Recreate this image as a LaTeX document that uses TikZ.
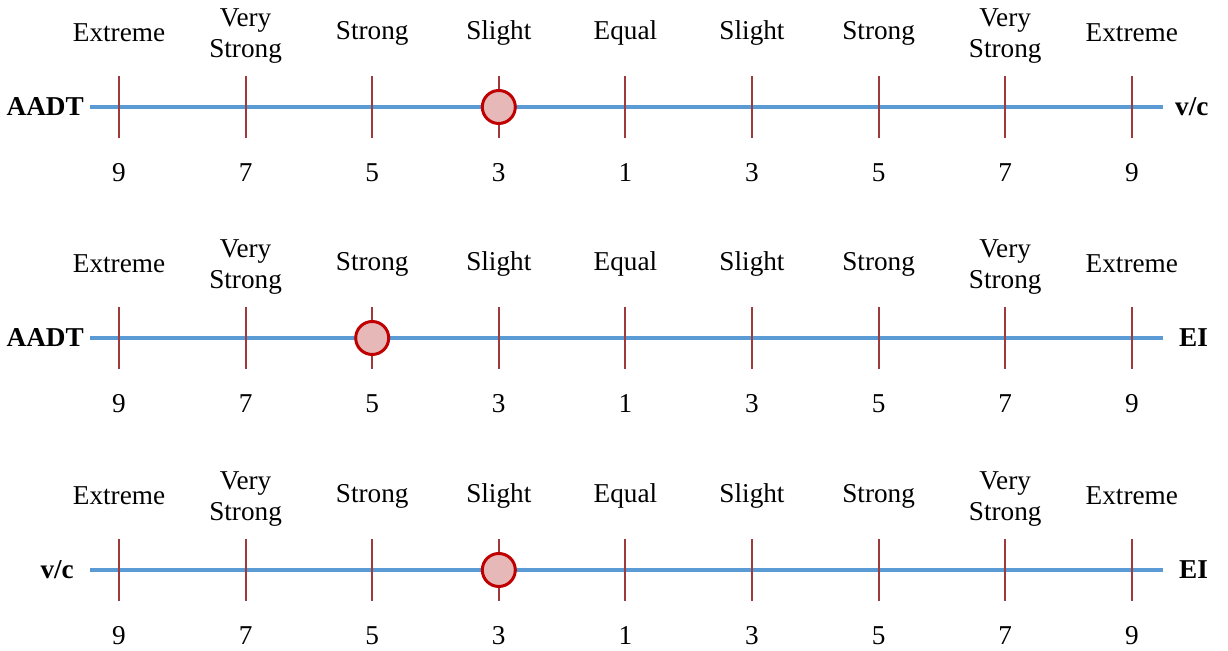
\documentclass[tikz,border=0pt]{standalone}
\usepackage{fontspec}
\setmainfont{Liberation Serif}
\usetikzlibrary{positioning}
\definecolor{lineblue}{HTML}{5B9BD5}
\definecolor{tickred}{HTML}{9E3A3C}
\definecolor{markred}{HTML}{C00000}
\definecolor{markfill}{HTML}{E6B9B8}
\newcommand{\vc}{v/c}
\tikzset{
  scaleline/.style={draw=lineblue,line width=2pt},
  scaletick/.style={draw=tickred,line width=1.2pt},
  scalelbl/.style={font=\fontsize{15.5}{17.6}\selectfont,align=center},
  numlbl/.style={font=\fontsize{15.5}{17.6}\selectfont},
  critlbl/.style={font=\fontsize{15.5}{17.6}\selectfont\bfseries},
  judgement/.style={circle,draw=markred,fill=markfill,line width=1.7pt,minimum size=0.66cm,inner sep=0pt}
}
\begin{document}
\begin{tikzpicture}[x=0.02cm,y=-0.02cm]
  \useasboundingbox (0,0) rectangle (1228,651);
  % one scale per pair of criteria
  \foreach \r/\yy/\lft/\lgap/\rgt/\rgap/\sel in {1/107/AADT/0cm/\vc/0.12cm/4,
      2/338/AADT/0cm/EI/0.2cm/3, 3/570/\vc/0.2cm/EI/0.2cm/4} {
    \coordinate (s\r) at (90,\yy);
    \coordinate (e\r) at (1163,\yy);
    \draw[scaleline] (s\r) -- (e\r);
    \foreach \i/\lbl/\num/\ly in {1/Extreme/9/-74, 2/{Very\\Strong}/7/-71, 3/Strong/5/-74,
        4/Slight/3/-74, 5/Equal/1/-74, 6/Slight/3/-74, 7/Strong/5/-74,
        8/{Very\\Strong}/7/-71, 9/Extreme/9/-74} {
      \coordinate (t\r\i) at ({119+(\i-1)*126.6},\yy);
      \coordinate (tu\r\i) at ({119+(\i-1)*126.6},{\yy-31});
      \coordinate (td\r\i) at ({119+(\i-1)*126.6},{\yy+31});
      \draw[scaletick] (tu\r\i) -- (td\r\i);
      \node[scalelbl] (l\r\i) at ({119+(\i-1)*126.6},{\yy+\ly}) {\lbl};
      \node[numlbl] (n\r\i) at ({119+(\i-1)*126.6},{\yy+66}) {\num};
    }
    \node[judgement] (c\r) at (t\r\sel) {};
    \node[critlbl,left=\lgap of s\r] (a\r) {\lft};
    \node[critlbl,right=\rgap of e\r] (b\r) {\rgt};
  }
\end{tikzpicture}
\end{document}
